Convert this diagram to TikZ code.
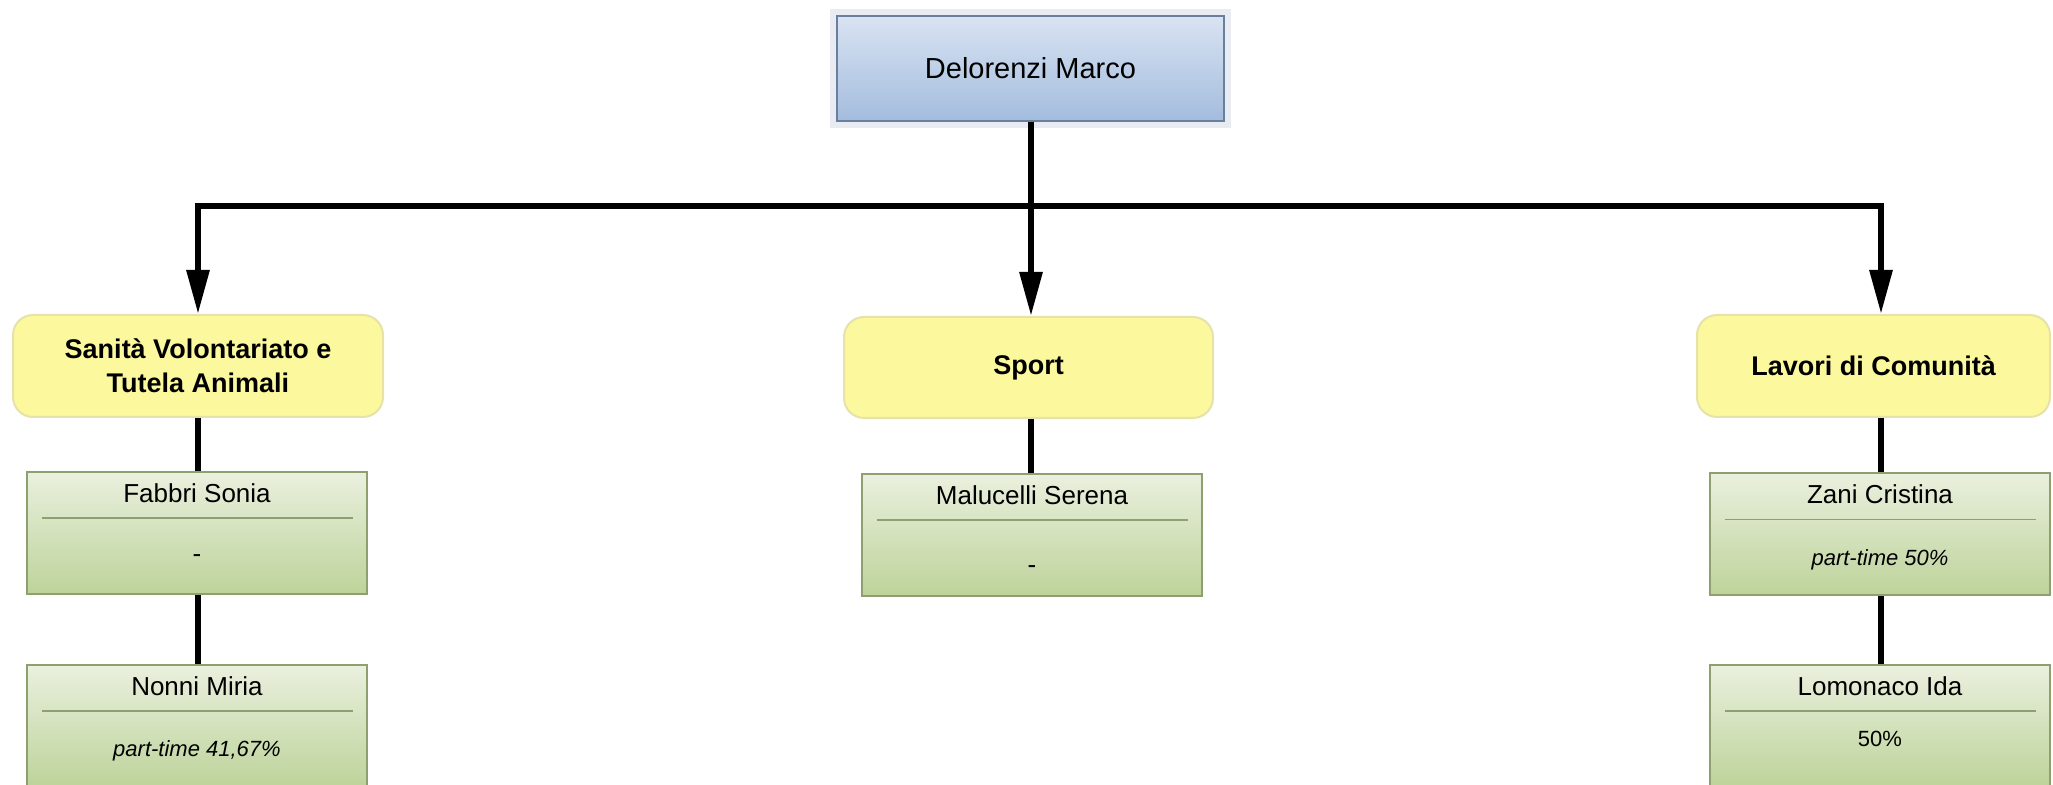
\documentclass[tikz,border=0pt]{standalone}
\usepackage{fontspec}
\setmainfont{Liberation Sans}
\usetikzlibrary{arrows.meta,calc}
\definecolor{bluetop}{HTML}{D9E3F2}
\definecolor{bluebot}{HTML}{A3BCDD}
\definecolor{blueline}{HTML}{6A7F9C}
\definecolor{yelfill}{HTML}{FBF89E}
\definecolor{yelline}{HTML}{E6E2A8}
\definecolor{grtop}{HTML}{EAF0DE}
\definecolor{grbot}{HTML}{BDD39A}
\definecolor{grline}{HTML}{8E9F70}
\definecolor{halocol}{HTML}{E8ECF2}
\newcommand\staffbox[6]{%
  \node[person] (#1) at (#2) {};
  \node[nametext] (#1-n) at ($(#1.north)+(0,22)$) {#3};
  \draw[divider] ($(#1.north west)+(16,47)$) -- ($(#1.north east)+(-15,47)$);
  \node[#6] (#1-r) at ($(#1.north)+(0,#5)$) {#4};}
\begin{document}
\begin{tikzpicture}[x=0.5pt,y=-0.5pt,
 boss/.style={draw=blueline, line width=1pt, top color=bluetop, bottom color=bluebot, inner sep=0pt,
   preaction={draw=halocol, line width=7pt}, font=\fontsize{14.5}{17}\selectfont},
 area/.style={draw=yelline, line width=1pt, fill=yelfill, rounded corners=10pt, inner sep=0pt,
   align=center, font=\fontsize{13.5}{17}\selectfont\bfseries},
 person/.style={draw=grline, line width=1pt, top color=grtop, bottom color=grbot, inner sep=0pt,
   minimum width=170pt, minimum height=61pt},
 nametext/.style={font=\fontsize{13}{15}\selectfont, inner sep=0pt},
 roletext/.style={font=\fontsize{11}{13}\selectfont\itshape, inner sep=0pt},
 dashtext/.style={font=\fontsize{13}{15}\selectfont, inner sep=0pt},
 pcttext/.style={font=\fontsize{11}{13}\selectfont, inner sep=0pt},
 divider/.style={draw=grline, line width=0.8pt},
 link/.style={line width=3pt, draw=black},
 arrowlink/.style={link, -{Triangle[length=22pt,width=11pt]}},
]
\useasboundingbox (0,0) rectangle (2053,785);
% top node
\node[boss, minimum width=193.5pt, minimum height=52.5pt] (top) at (1030.5,68.5) {Delorenzi Marco};
% area nodes
\node[area, minimum width=185pt, minimum height=51pt] (sanita) at (198,366) {Sanità Volontariato e\\Tutela Animali};
\node[area, minimum width=184.5pt, minimum height=50.5pt] (sport) at (1028.5,367.5) {Sport};
\node[area, minimum width=176.5pt, minimum height=51pt] (lavori) at (1873.5,366) {Lavori di Comunità};
% junctions
\coordinate (jl) at (198,206);
\coordinate (jm) at (1031,206);
\coordinate (jr) at (1881,206);
\draw[link] (jm |- top.south) -- (jm);
\draw[link, line cap=rect] (jl) -- (jr);
\draw[arrowlink] (jl) -- (jl |- sanita.north);
\draw[arrowlink] (jm) -- (jm |- sport.north);
\draw[arrowlink] (jr) -- (jr |- lavori.north);
% staff boxes
\staffbox{fabbri}{197,533}{Fabbri Sonia}{-}{88}{dashtext}
\staffbox{nonni}{197,726}{Nonni Miria}{part-time 41,67\%}{87}{roletext}
\staffbox{malucelli}{1032,535}{Malucelli Serena}{-}{97}{dashtext}
\staffbox{zani}{1880,534.5}{Zani Cristina}{part-time 50\%}{87}{roletext}
\staffbox{lomonaco}{1880,726}{Lomonaco Ida}{50\%}{75}{pcttext}
% vertical connectors
\draw[link] (sanita.south -| jl) -- (jl |- fabbri.north);
\draw[link] (jl |- fabbri.south) -- (jl |- nonni.north);
\draw[link] (jm |- sport.south) -- (jm |- malucelli.north);
\draw[link] (jr |- lavori.south) -- (jr |- zani.north);
\draw[link] (jr |- zani.south) -- (jr |- lomonaco.north);
\end{tikzpicture}
\end{document}
